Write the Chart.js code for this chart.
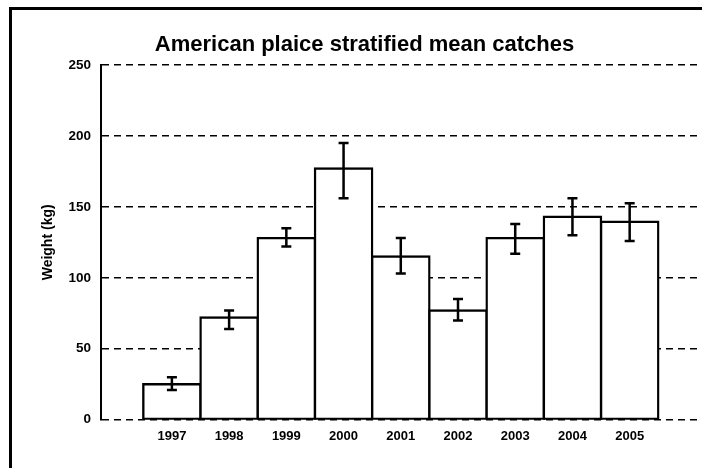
<!DOCTYPE html>
<html>
<head>
<meta charset="utf-8">
<script src="https://cdn.jsdelivr.net/npm/chart.js"></script>
<style>
  body { margin: 0; width: 702px; height: 468px; overflow: hidden; background: #fff; position: relative; }
  .frame { position: absolute; left: 9px; top: 7px; width: 800px; height: 600px; border: 3px solid #000; }
  #myChart { position: absolute; left: 0; top: 0; }
</style>
</head>
<body>
<div class="frame"></div>
<canvas id="myChart" width="702" height="468"></canvas>
<script>
let years = [1997, 1998, 1999, 2000, 2001, 2002, 2003, 2004, 2005];
let meanCatch = [25, 72, 128, 177, 115, 77, 128, 143, 139.5];
let errHigh = [30, 77, 135, 195, 128, 85, 138, 156, 152.5];
let errLow = [21, 64, 122, 156, 103, 70, 117, 130, 126];
let yTicks = [0, 50, 100, 150, 200, 250];

const font = 'Liberation Sans, Arial, sans-serif';

// error bars drawn from the scales
const errorBars = {
  id: 'errorBars',
  afterDatasetsDraw(chart) {
    const ctx = chart.ctx;
    const xs = chart.scales.x;
    const ys = chart.scales.y;
    ctx.save();
    ctx.strokeStyle = '#000';
    ctx.lineWidth = 2.5;
    for (let i = 0; i < years.length; i++) {
      let x = xs.getPixelForValue(years[i]);
      let top = ys.getPixelForValue(errHigh[i]);
      let bottom = ys.getPixelForValue(errLow[i]);
      ctx.beginPath();
      ctx.moveTo(x, top);
      ctx.lineTo(x, bottom);
      ctx.moveTo(x - 5, top);
      ctx.lineTo(x + 5, top);
      ctx.moveTo(x - 5, bottom);
      ctx.lineTo(x + 5, bottom);
      ctx.stroke();
    }
    ctx.restore();
  }
};

new Chart(document.getElementById('myChart'), {
  type: 'bar',
  data: {
    datasets: [
      {
        data: years.map((y, i) => ({ x: y, y: meanCatch[i] })),
        backgroundColor: '#fff',
        borderColor: '#000',
        borderWidth: 2.4,
        borderSkipped: false,
        inflateAmount: 1.2,
        barPercentage: 1,
        categoryPercentage: 1,
      },
    ],
  },
  options: {
    responsive: false,
    animation: false,
    layout: { padding: { left: 27, right: 0, top: 0, bottom: 0 } },
    plugins: {
      legend: { display: false },
      tooltip: { enabled: false },
      title: {
        display: true,
        text: 'American plaice stratified mean catches',
        color: '#000',
        font: { family: font, size: 22, weight: 'bold' },
        padding: { top: 31.5, bottom: 7.1 },
      },
    },
    scales: {
      x: {
        type: 'linear',
        min: 1995.761,
        max: 2006.264,
        offset: false,
        grid: { display: false, drawTicks: false, offset: false },
        border: { display: false },
        afterBuildTicks: (s) => { s.ticks = years.map((v) => ({ value: v })); },
        afterFit: (s) => { s.height = 48.3; },
        ticks: {
          color: '#000',
          padding: 8.5,
          font: { family: font, size: 13, weight: 'bold' },
          callback: (v) => String(v),
        },
      },
      y: {
        min: 0,
        max: 250,
        afterBuildTicks: (s) => { s.ticks = yTicks.map((v) => ({ value: v })); },
        afterFit: (s) => { s.width = 74; },
        grid: { color: '#000', lineWidth: 1.5, drawTicks: false },
        border: { display: true, color: '#000', width: 2, dash: [7, 5] },
        ticks: {
          color: '#000',
          padding: 10,
          font: { family: font, size: 13.5, weight: 'bold' },
        },
        title: {
          display: true,
          text: 'Weight (kg)',
          color: '#000',
          font: { family: font, size: 14, weight: 'bold' },
          padding: { top: 12.8, bottom: 4 },
        },
      },
    },
  },
  plugins: [errorBars],
});
</script>
</body>
</html>
